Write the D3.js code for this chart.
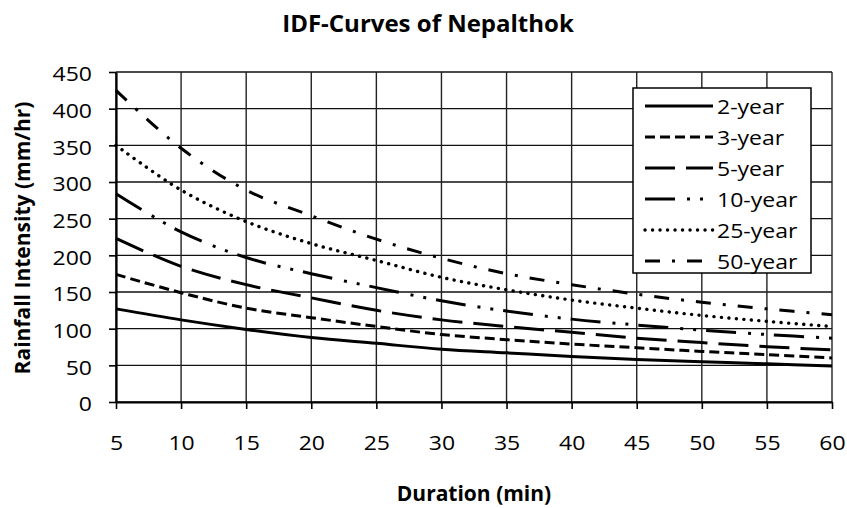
<!DOCTYPE html>
<html>
<head>
<meta charset="utf-8">
<script src="https://cdn.jsdelivr.net/npm/d3@7"></script>
<style>
  body { margin: 0; background: #fff; }
  text { font-family: "Open Sans", sans-serif; fill: #000; }
</style>
</head>
<body>
<div class="canvas"></div>
<script>
// durations (min) and intensities (mm/hr)
const durations = [5, 10, 15, 20, 25, 30, 35, 40, 45, 50, 55, 60];
const yr2  = [127, 112, 99, 88, 80, 72, 67, 62, 58, 55, 52, 49];
const yr3  = [174, 149, 128, 115, 103, 92, 85, 79, 74, 69, 64.5, 60];
const yr5  = [223, 185, 160, 142, 125, 112, 103, 95, 87, 81, 75.5, 71];
const yr10 = [284, 232, 197, 175, 156, 138, 124, 113, 105, 98, 92, 87];
const yr25 = [350, 289, 246, 216, 193, 170, 153, 139, 128, 118, 110, 103];
const yr50 = [425, 346, 289, 254, 222, 196, 175, 160, 147, 136, 127, 119];
const seriesNames = ['2-year', '3-year', '5-year', '10-year', '25-year', '50-year'];
const xTicks = [5, 10, 15, 20, 25, 30, 35, 40, 45, 50, 55, 60];
const yTicks = [0, 50, 100, 150, 200, 250, 300, 350, 400, 450];

// line styles per series (dash arrays)
const styles = [
    { dash: null, cap: 'butt', w: 3 },
    { dash: '10,5', cap: 'butt', w: 3 },
    { dash: '30,11', cap: 'butt', w: 3 },
    { dash: '30,12,3,10,3,10', cap: 'butt', w: 3 },
    { dash: '0.1,7.4', cap: 'round', w: 3.4 },
    { dash: '15,12,3,12', cap: 'butt', w: 3 }
];

const series = [yr2, yr3, yr5, yr10, yr25, yr50].map((vals, i) => ({
    name: seriesNames[i],
    style: styles[i],
    values: vals.map((v, j) => ({ t: durations[j], v: v }))
}));

const width = 847, height = 508;
const margin = { top: 72, right: 15, bottom: 106, left: 116 };
const graphWidth = width - margin.left - margin.right;
const graphHeight = height - margin.top - margin.bottom;
const stretch = 1.15; // text in the picture is a bit wide

const svg = d3.select('.canvas')
    .append('svg')
    .attr('width', width)
    .attr('height', height);

const graph = svg.append('g')
    .attr('transform', `translate(${margin.left}, ${margin.top})`);

// scales
const x = d3.scaleLinear().domain([5, 60]).range([0, graphWidth]);
const y = d3.scaleLinear().domain([0, 450]).range([graphHeight, 0]);

// gridlines
graph.append('g')
    .selectAll('line')
    .data(yTicks)
    .enter().append('line')
    .attr('x1', 0).attr('x2', graphWidth)
    .attr('y1', d => y(d)).attr('y2', d => y(d))
    .attr('stroke', '#111').attr('stroke-width', 1.4);

graph.append('g')
    .selectAll('line')
    .data(xTicks)
    .enter().append('line')
    .attr('y1', 0).attr('y2', graphHeight)
    .attr('x1', d => x(d)).attr('x2', d => x(d))
    .attr('stroke', '#222').attr('stroke-width', 1.4);

// axes
const xAxis = d3.axisBottom(x).tickValues(xTicks).tickSizeInner(7).tickSizeOuter(0).tickPadding(0);
const yAxis = d3.axisLeft(y).tickValues(yTicks).tickSizeInner(7).tickSizeOuter(0).tickPadding(0);

const xAxisGroup = graph.append('g')
    .attr('transform', `translate(0, ${graphHeight})`)
    .call(xAxis);
const yAxisGroup = graph.append('g').call(yAxis);

[xAxisGroup, yAxisGroup].forEach(g => {
    g.select('.domain').attr('stroke', '#000').attr('stroke-width', 2.2);
    g.selectAll('.tick line').attr('stroke', '#000').attr('stroke-width', 1.6);
    g.selectAll('text')
        .attr('font-family', '"Open Sans", sans-serif')
        .attr('font-size', 20)
        .attr('fill', '#000');
});

xAxisGroup.selectAll('text')
    .attr('y', null).attr('dy', null)
    .attr('dominant-baseline', 'central')
    .attr('text-anchor', 'middle')
    .attr('transform', `translate(0, 40) scale(${stretch}, 1)`);

yAxisGroup.selectAll('text')
    .attr('x', null).attr('dy', null)
    .attr('dominant-baseline', 'central')
    .attr('text-anchor', 'end')
    .attr('transform', `translate(-24, 1) scale(${stretch}, 1)`);

// curves
const line = d3.line()
    .x(d => x(d.t))
    .y(d => y(d.v))
    .curve(d3.curveCatmullRom.alpha(0.5));

graph.append('g')
    .selectAll('path')
    .data(series)
    .enter().append('path')
    .attr('d', d => line(d.values))
    .attr('fill', 'none')
    .attr('stroke', '#000')
    .attr('stroke-width', d => d.style.w)
    .attr('stroke-linecap', d => d.style.cap)
    .attr('stroke-dasharray', d => d.style.dash);

// legend
const legend = svg.append('g').attr('transform', 'translate(633, 88)');
legend.append('rect')
    .attr('width', 178).attr('height', 185)
    .attr('fill', '#fff').attr('stroke', '#000').attr('stroke-width', 1.5);

const rows = legend.selectAll('g.row')
    .data(series)
    .enter().append('g')
    .attr('class', 'row')
    .attr('transform', (d, i) => `translate(0, ${18 + i * 31})`);

rows.append('line')
    .attr('x1', 12).attr('x2', 80)
    .attr('stroke', '#000')
    .attr('stroke-width', d => d.style.w)
    .attr('stroke-linecap', d => d.style.cap)
    .attr('stroke-dasharray', d => d.style.dash);

rows.append('text')
    .attr('dominant-baseline', 'central')
    .attr('font-size', 20)
    .attr('transform', `translate(84, 0) scale(${stretch}, 1)`)
    .text(d => d.name);

// titles
svg.append('text')
    .attr('x', 428).attr('y', 32)
    .attr('text-anchor', 'middle')
    .attr('font-weight', 'bold')
    .attr('font-size', 24)
    .text('IDF-Curves of Nepalthok');

svg.append('text')
    .attr('x', margin.left + graphWidth / 2).attr('y', 493)
    .attr('text-anchor', 'middle')
    .attr('dominant-baseline', 'central')
    .attr('font-weight', 'bold')
    .attr('font-size', 21)
    .text('Duration (min)');

svg.append('text')
    .attr('transform', 'translate(22, 238) rotate(-90)')
    .attr('text-anchor', 'middle')
    .attr('dominant-baseline', 'central')
    .attr('font-weight', 'bold')
    .attr('font-size', 21)
    .text('Rainfall Intensity (mm/hr)');
</script>
</body>
</html>
